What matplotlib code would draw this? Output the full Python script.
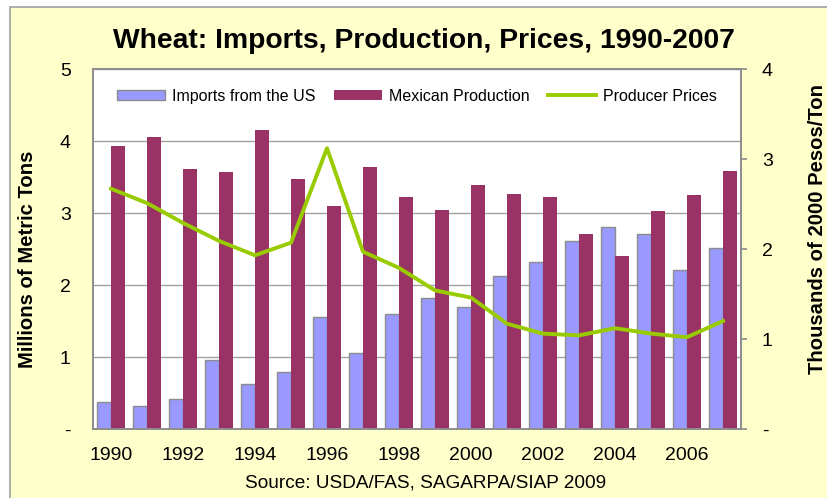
import matplotlib
matplotlib.use("Agg")
import matplotlib.pyplot as plt
import numpy as np
from matplotlib.patches import Rectangle, Patch
from matplotlib.lines import Line2D

plt.rcParams['font.family'] = ['Liberation Sans', 'DejaVu Sans']

years = list(range(1990, 2008))
imports_us = [0.37, 0.32, 0.42, 0.96, 0.62, 0.79, 1.55, 1.06, 1.60, 1.82,
              1.69, 2.12, 2.32, 2.61, 2.81, 2.71, 2.21, 2.51]
mexican_production = [3.93, 4.06, 3.61, 3.57, 4.15, 3.47, 3.10, 3.64, 3.22, 3.04,
                      3.39, 3.26, 3.22, 2.71, 2.40, 3.03, 3.25, 3.58]
producer_prices = [2.67, 2.51, 2.29, 2.09, 1.93, 2.07, 3.12, 1.97, 1.79, 1.54,
                   1.46, 1.17, 1.06, 1.04, 1.12, 1.06, 1.02, 1.20]
left_ticks = [0, 1, 2, 3, 4, 5]
left_labels = ['-', '1', '2', '3', '4', '5']
right_ticks = [0, 1, 2, 3, 4]
right_labels = ['-', '1', '2', '3', '4']

W, H = 828, 498
fig = plt.figure(figsize=(W / 100, H / 100), dpi=100, facecolor='white')

# background frame
fig.patches.append(Rectangle((10 / W, -0.1), 1.2, (H - 7) / H + 0.1,
                             transform=fig.transFigure, facecolor='#FFFFCC',
                             edgecolor='#A0A0A0', linewidth=1.2, zorder=-10))

ax = fig.add_axes([93 / W, 1 - 429 / H, (741 - 93) / W, (429 - 69) / H])
ax.set_facecolor('white')
x = np.arange(len(years))
bw = 0.4
ax.bar(x - 0.2, imports_us, width=bw, color='#9999FF', edgecolor='#8C8C8C',
       linewidth=1.0, zorder=2)
ax.bar(x + 0.2, mexican_production, width=bw, color='#993366', edgecolor='none',
       zorder=2)
ax.set_xlim(-0.5, len(years) - 0.5)
ax.set_ylim(0, 5)
ax.set_yticks(left_ticks)
ax.set_yticklabels(left_labels, fontsize=14)
ax.yaxis.grid(True, color='#A0A0A0', linewidth=1.0)
ax.set_axisbelow(True)
ax.tick_params(axis='y', length=0, pad=16)
ax.set_xticks(x[::2])
ax.set_xticklabels([str(y) for y in years[::2]], fontsize=14)
ax.tick_params(axis='x', length=0, pad=13)
for s in ax.spines.values():
    s.set_color('#8C8C8C')
    s.set_linewidth(1.2)

ax2 = ax.twinx()
ax2.plot(x, producer_prices, color='#99CC00', linewidth=2.8, zorder=3)
ax2.set_ylim(0, 4)
ax2.set_yticks(right_ticks)
ax2.set_yticklabels(right_labels, fontsize=14)
ax2.tick_params(axis='y', length=4, width=1.2, color='#8C8C8C', pad=11)
for s in ax2.spines.values():
    s.set_color('#8C8C8C')
    s.set_linewidth(1.2)

fig.text(28 / W, 1 - 259 / H, 'Millions of Metric Tons', rotation=90,
         ha='center', va='center', fontsize=14.6, fontweight='bold')
fig.text(818 / W, 1 - 229 / H, 'Thousands of 2000 Pesos/Ton', rotation=90,
         ha='center', va='center', fontsize=14.6, fontweight='bold')

handles = [Patch(facecolor='#9999FF', edgecolor='#8C8C8C'),
           Patch(facecolor='#993366', edgecolor='none'),
           Line2D([], [], color='#99CC00', linewidth=2.8)]
labels = ['Imports from the US', 'Mexican Production', 'Producer Prices']
ax2.legend(handles, labels, loc='center', bbox_to_anchor=(0.5, 1 - 27 / 360),
           ncol=3, frameon=False, fontsize=11.5, handlelength=3.0,
           handleheight=0.6, handletextpad=0.4, columnspacing=1.2)

fig.text(424 / W, 1 - 48 / H, 'Wheat: Imports, Production, Prices, 1990-2007',
         ha='center', va='baseline', fontsize=20.3, fontweight='bold')
fig.text(426 / W, 1 - 483 / H, 'Source: USDA/FAS, SAGARPA/SIAP 2009',
         ha='center', va='center', fontsize=13.7)

fig.savefig('out.png', dpi=100)
